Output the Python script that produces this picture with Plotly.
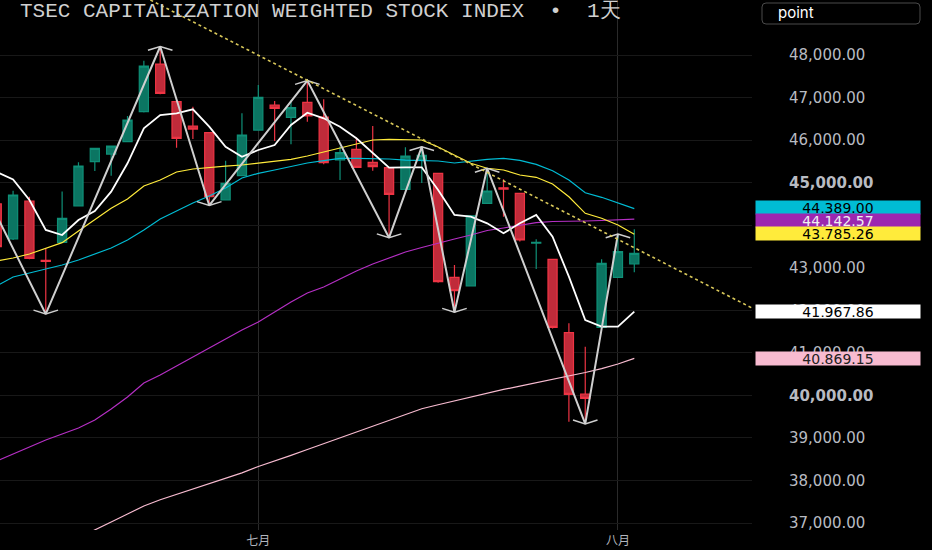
import plotly.graph_objects as go

# trading days shown (first one is cut by the left edge)
dates = [
    "2024-06-06", "2024-06-07", "2024-06-11", "2024-06-12", "2024-06-13",
    "2024-06-14", "2024-06-17", "2024-06-18", "2024-06-19", "2024-06-20",
    "2024-06-21", "2024-06-24", "2024-06-25", "2024-06-26", "2024-06-27",
    "2024-06-28", "2024-07-01", "2024-07-02", "2024-07-03", "2024-07-04",
    "2024-07-05", "2024-07-08", "2024-07-09", "2024-07-10", "2024-07-11",
    "2024-07-12", "2024-07-15", "2024-07-16", "2024-07-17", "2024-07-18",
    "2024-07-19", "2024-07-22", "2024-07-23", "2024-07-24", "2024-07-26",
    "2024-07-29", "2024-07-30", "2024-07-31", "2024-08-01", "2024-08-02",
]

opens = [44500, 43676, 44569, 43175, 43598, 44452, 45493, 45673, 45963, 46668,
         47788, 46903, 46330, 46174, 44593, 45164, 46237, 46825, 46536, 46888,
         46540, 45533, 45784, 45478, 45353, 44844, 45540, 45220, 42776, 42571,
         44515, 44880, 44750, 43580, 43199, 41474, 40030, 41601, 42776, 43089]
highs = [44560, 44811, 44670, 43457, 44790, 45480, 45820, 45870, 46566, 47866,
         48200, 46920, 46786, 46180, 45516, 46630, 47295, 46920, 46942, 47400,
         46958, 45850, 46057, 46331, 45360, 45830, 45845, 45230, 43065, 44230,
         45337, 45080, 44760, 43670, 43210, 41695, 41145, 43200, 43795, 43904]
lows = [43440, 43650, 43200, 41915, 43590, 44440, 45274, 45164, 45950, 46650,
        47080, 45822, 46026, 44465, 44580, 45150, 46230, 45980, 45901, 46433,
        45430, 45062, 45350, 45281, 43707, 44830, 44990, 42650, 41955, 42560,
        44500, 44200, 43620, 42970, 41570, 39384, 39330, 41590, 42760, 42894]
closes = [43495, 44710, 43222, 43150, 44162, 45392, 45807, 45861, 46472, 47741,
          47100, 46043, 46260, 44670, 44985, 46120, 47006, 46747, 46762, 46567,
          45470, 45706, 45361, 45375, 44727, 45626, 45640, 42672, 42462, 44223,
          44804, 44850, 43653, 43600, 41601, 40026, 39930, 43105, 43378, 43339]

# moving averages
ma_white = [45250, 45074, 44593, 43888, 43770, 44123, 44334, 44788, 45455, 46278,
            46590, 46630, 46724, 46315, 45845, 45610, 45768, 45885, 46355, 46644,
            46513, 46315, 46043, 45697, 45352, 45361, 45361, 44828, 44240, 44200,
            44045, 43810, 44045, 44240, 43730, 42790, 41772, 41615, 41615, 41967.86]
ma_yellow = [43159, 43230, 43323, 43453, 43590, 43864, 44122, 44397, 44616, 44922,
             45062, 45250, 45321, 45361, 45391, 45415, 45462, 45509, 45549, 45626,
             45720, 45807, 45908, 46003, 46019, 46014, 46003, 45838, 45650, 45455,
             45338, 45298, 45180, 45126, 44969, 44670, 44280, 44163, 44005, 43785.26]
ma_cyan = [42572, 42783, 42877, 42964, 43065, 43183, 43323, 43464, 43653, 43888,
           44146, 44334, 44522, 44686, 44874, 45109, 45220, 45297, 45375, 45462,
           45520, 45572, 45572, 45572, 45556, 45532, 45520, 45509, 45462, 45509,
           45549, 45572, 45525, 45431, 45281, 45062, 44764, 44656, 44530, 44389.00]
ma_purple = [38459, 38624, 38788, 38953, 39094, 39235, 39422, 39681, 39963, 40292,
             40480, 40692, 40903, 41115, 41326, 41538, 41726, 41960, 42195, 42407,
             42548, 42736, 42924, 43088, 43229, 43370, 43476, 43582, 43676, 43770,
             43876, 43935, 44005, 44059, 44087, 44087, 44099, 44111, 44122, 44142.57]
ma_pink = [None, None, None, None, None, 36653, 36833, 37025, 37213, 37401,
           37548, 37675, 37800, 37927, 38053, 38180, 38330, 38452, 38590, 38729,
           38866, 39004, 39140, 39277, 39413, 39549, 39686, 39780, 39871, 39963,
           40052, 40141, 40217, 40294, 40370, 40452, 40539, 40630, 40739, 40869.15]

# zigzag pivots (bar index, price, 1 = high / -1 = low)
pivot_idx = [-1, 3, 10, 13, 19, 24, 26, 28, 30, 36, 38]
pivot_price = [44990, 41915, 48200, 44465, 47400, 43707, 45845, 41955, 45337, 39330, 43795]
pivot_kind = [1, -1, 1, -1, 1, -1, 1, -1, 1, -1, 1]

# dotted trend line anchors
trend_idx = [9.4, 46.2]
trend_price = [49293, 42054]

price_ticks = list(range(37000, 48001, 1000))
bold_ticks = [40000, 45000]
month_ticks = ["2024-07-01", "2024-08-01"]
month_labels = ["七月", "八月"]

badge_values = [44389.00, 44142.57, 43785.26, 41967.86, 40869.15]
badge_bg = ["#00bcd4", "#9c27b0", "#ffeb3b", "#ffffff", "#f8bbd0"]
badge_fg = ["#000000", "#f0f0f0", "#000000", "#000000", "#222222"]
badge_nudge = [1, -1, 1, 0, 0]  # px, keeps the stacked labels apart

x = list(range(len(dates)))

fig = go.Figure()

fig.add_trace(
    go.Candlestick(
        x=x,
        open=opens,
        high=highs,
        low=lows,
        close=closes,
        text=dates,
        increasing=dict(line=dict(color="#0f8f77", width=1.2), fillcolor="#0b7562"),
        decreasing=dict(line=dict(color="#ee3444", width=1.2), fillcolor="#c02b3a"),
        hoverinfo="text+y",
    )
)

for vals, col, w in [
    (ma_pink, "#f8bbd0", 1.2),
    (ma_purple, "#b52fc4", 1.2),
    (ma_cyan, "#00bcd4", 1.2),
    (ma_yellow, "#ffeb3b", 1.2),
    (ma_white, "#ffffff", 1.8),
]:
    fig.add_trace(go.Scatter(x=x, y=vals, mode="lines", line=dict(color=col, width=w),
                             hoverinfo="skip"))

# zigzag and the small caret at every pivot
fig.add_trace(go.Scatter(x=pivot_idx, y=pivot_price, mode="lines",
                         line=dict(color="#cfcfcf", width=2), hoverinfo="skip"))
cx, cy = [], []
for i, p, k in zip(pivot_idx, pivot_price, pivot_kind):
    d = 90 * k
    cx += [i - 0.75, i, i + 0.75, None]
    cy += [p - d, p, p - d, None]
fig.add_trace(go.Scatter(x=cx, y=cy, mode="lines",
                         line=dict(color="#cfcfcf", width=1.5), hoverinfo="skip"))

fig.add_trace(go.Scatter(x=trend_idx, y=trend_price, mode="lines",
                         line=dict(color="#d9c85a", width=1.6, dash="dot"),
                         hoverinfo="skip"))

PLOT_W = 752
PLOT_H = 530

annos = []
annos.append(dict(
    xref="paper", yref="paper", x=18 / PLOT_W, y=1 - 12 / PLOT_H,
    xanchor="left", yanchor="middle", showarrow=False,
    text="TSEC CAPITALIZATION WEIGHTED STOCK INDEX  •  1天",
    font=dict(family="Liberation Mono", size=21, color="#d0d0d0"),
))
annos.append(dict(
    xref="paper", yref="paper", x=776 / PLOT_W, y=1 - 13 / PLOT_H,
    xanchor="left", yanchor="middle", showarrow=False, text="point",
    font=dict(family="Inter", size=15, color="#ffffff"),
))
for v, bg, fg, nudge in zip(badge_values, badge_bg, badge_fg, badge_nudge):
    annos.append(dict(
        xref="paper", yref="y", x=755 / PLOT_W, y=v, yshift=nudge,
        xanchor="left", yanchor="middle", showarrow=False,
        text=f"{v:,.2f}", bgcolor=bg, width=162, height=11, borderpad=1,
        font=dict(family="DejaVu Sans", size=14, color=fg),
    ))

# rounded button frame round "point"
x0, x1 = 762 / PLOT_W, 920 / PLOT_W
y0, y1 = 1 - 24 / PLOT_H, 1 - 3 / PLOT_H
rx, ry = 4 / PLOT_W, 4 / PLOT_H
btn_path = (
    f"M {x0 + rx} {y1} L {x1 - rx} {y1} Q {x1} {y1} {x1} {y1 - ry} "
    f"L {x1} {y0 + ry} Q {x1} {y0} {x1 - rx} {y0} L {x0 + rx} {y0} "
    f"Q {x0} {y0} {x0} {y0 + ry} L {x0} {y1 - ry} Q {x0} {y1} {x0 + rx} {y1} Z"
)

fig.update_layout(
    width=932,
    height=550,
    margin=dict(l=0, r=932 - PLOT_W, t=0, b=550 - PLOT_H),
    paper_bgcolor="#000000",
    plot_bgcolor="#000000",
    showlegend=False,
    boxgap=0.2,
    annotations=annos,
    shapes=[dict(type="path", xref="paper", yref="paper", path=btn_path,
                 line=dict(color="#4a4a4a", width=1), fillcolor="rgba(0,0,0,0)")],
    xaxis=dict(
        range=[0.2, 46.2],
        rangeslider=dict(visible=False),
        tickvals=[dates.index(d) for d in month_ticks],
        ticktext=month_labels,
        tickfont=dict(family="Noto Sans CJK SC", size=12, color="#b2b5be"),
        ticklabelstandoff=2,
        showgrid=True,
        gridcolor="#2a2a2a",
        zeroline=False,
        showline=False,
        ticks="",
    ),
    yaxis=dict(
        side="right",
        range=[36837, 49293],
        tickvals=price_ticks,
        ticktext=[f"<b>{v:,.2f}</b>" if v in bold_ticks else f"{v:,.2f}" for v in price_ticks],
        tickfont=dict(family="DejaVu Sans", size=15, color="#b8bbc2"),
        ticklabelstandoff=36,
        showgrid=True,
        gridcolor="#181818",
        zeroline=False,
        showline=False,
        ticks="",
    ),
)

fig.write_html(
    "out.html",
    config={"displayModeBar": False},
    post_script="document.body.style.margin='0px';document.body.style.background='#000';",
)
